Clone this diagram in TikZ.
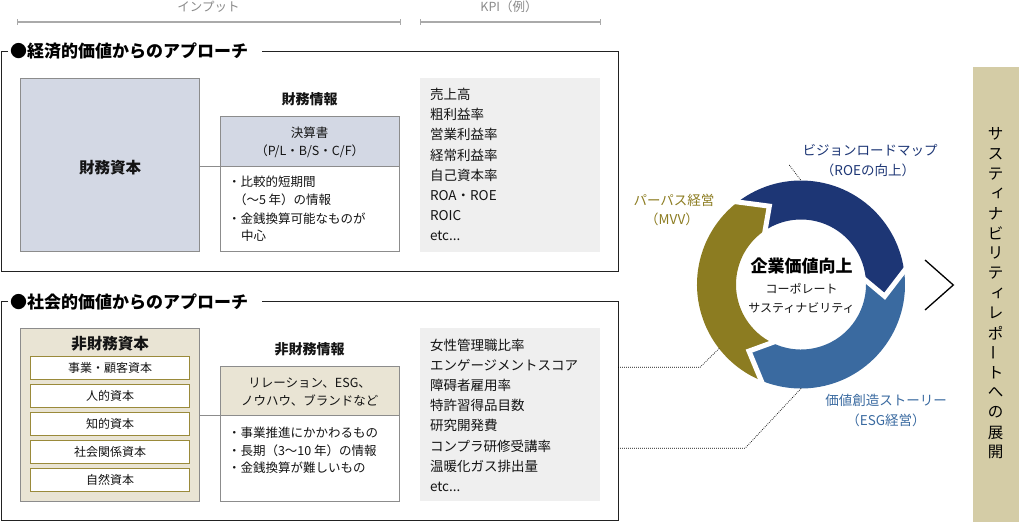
\documentclass[tikz,border=0pt]{standalone}
\usepackage{fontspec}
\setmainfont{Noto Sans CJK JP}
\usetikzlibrary{calc}
\definecolor{frameC}{HTML}{222222}
\definecolor{textC}{HTML}{141414}
\definecolor{boxGray}{HTML}{8C8C8C}
\definecolor{finFill}{HTML}{D3D8E4}
\definecolor{nfFill}{HTML}{E9E4D4}
\definecolor{kpiFill}{HTML}{EFEFEF}
\definecolor{ringOlive}{HTML}{8C7C21}
\definecolor{ringDark}{HTML}{1D3675}
\definecolor{ringLight}{HTML}{3A6AA0}
\definecolor{panelC}{HTML}{D4CCA6}
\definecolor{goldLine}{HTML}{9A8A3A}
\definecolor{topGray}{HTML}{8A8A8A}
\definecolor{barGray}{HTML}{AAAAAA}
\newcommand{\fsz}[1]{\fontsize{#1}{#1}\selectfont}
\begin{document}
\begin{tikzpicture}[x=1pt,y=-1pt,
  tx/.style={inner sep=0pt, outer sep=0pt, text=textC},
  ctr/.style={tx, anchor=base},
  lft/.style={tx, anchor=base west},
  boxS/.style={draw=boxGray, line width=0.8pt, inner sep=0pt, outer sep=0pt, anchor=north west},
  itemS/.style={draw=goldLine, fill=white, line width=0.8pt, inner sep=0pt, outer sep=0pt, anchor=north west, minimum width=158.6pt, minimum height=22.7pt},
  kpiS/.style={fill=kpiFill, inner sep=0pt, outer sep=0pt, anchor=north west, minimum width=180pt},
  frameS/.style={draw=frameC, line width=1pt},
  linkS/.style={draw=boxGray, line width=0.8pt},
  leaderS/.style={draw=black, line width=0.75pt, dash pattern=on 0.75pt off 1.25pt},
  barS/.style={draw=barGray, line width=1.4pt},
  tickS/.style={draw=barGray, line width=0.8pt},
  gapS/.style={draw=white, line width=5pt, line join=miter},
  vch/.style={inner sep=0pt, outer sep=0pt, text=black, font=\fsz{15.5}},
]
\useasboundingbox (0,0) rectangle (1019,522);

% ---------- top scale bars ----------
\node[ctr, text=topGray, font=\fsz{12.5}] (inLbl) at (208.5,11.8) {インプット};
\node[ctr, text=topGray, font=\fsz{12.5}] (kpiLbl) at (509,11.8) {KPI（例）};
\coordinate (inA) at (17,22); \coordinate (inB) at (400,22);
\coordinate (kpA) at (420,22); \coordinate (kpB) at (600,22);
\draw[barS] (inA) -- (inB);
\draw[barS] (kpA) -- (kpB);
\foreach \p in {inA,inB,kpA,kpB} \draw[tickS] ([yshift=3pt]\p) -- ([yshift=-3pt]\p);

% ---------- economic frame ----------
\node[lft, text=black, font=\fsz{17}\bfseries] (econT) at (10,57.5) {●経済的価値からのアプローチ};
\draw[frameS] (8,51) -- (1,51) -- (1,271) -- (618,271) -- (618,51) -- (262,51);

\node[boxS, fill=finFill, minimum width=178.6pt, minimum height=172.7pt] (finCap) at (20.7,78.3) {};
\node[ctr, font=\fsz{15.5}\bfseries] (finCapT) at (110,173.6) {財務資本};

\node[ctr, font=\fsz{14}\bfseries] (finInfoT) at (309.7,104.6) {財務情報};
\node[boxS, fill=white, minimum width=179.3pt, minimum height=134.3pt] (finInfo) at (220,116.7) {};
\node[boxS, fill=finFill, minimum width=179.3pt, minimum height=49.3pt] (finHead) at (220,116.7) {};
\node[ctr, font=\fsz{12.5}] (finH1) at (309.7,137.5) {決算書};
\node[ctr, font=\fsz{12.5}] (finH2) at (309.7,155.5) {（P/L・B/S・C/F）};
\node[lft, font=\fsz{12.5}] (finB1) at (228,186.5) {・比較的短期間};
\node[lft, font=\fsz{12.5}] (finB2) at (234,204.8) {（〜5 年）の情報};
\node[lft, font=\fsz{12.5}] (finB3) at (228,223.1) {・金銭換算可能なものが};
\node[lft, font=\fsz{12.5}] (finB4) at (241,240.8) {中心};
\draw[linkS] (finCap.east |- finHead.south) -- (finHead.south west);

\node[kpiS, minimum height=174pt] (kpiTop) at (420,77.7) {};
\foreach \t [count=\i from 0] in {売上高,粗利益率,営業利益率,経常利益率,自己資本率,ROA・ROE,ROIC}
  \node[lft, font=\fsz{13.5}] (kpiA\i) at (430,{99.4+20.2*\i}) {\t};
\node[lft, font=\fsz{13.5}] (kpiA7) at (430,240.8) {etc...};

% ---------- social frame ----------
\node[lft, text=black, font=\fsz{17}\bfseries] (socT) at (10,308.2) {●社会的価値からのアプローチ};
\draw[frameS] (8,301.7) -- (1,301.7) -- (1,520) -- (618,520) -- (618,301.7) -- (262,301.7);

\node[boxS, fill=nfFill, minimum width=178.6pt, minimum height=173.4pt] (nfCap) at (20.7,328.3) {};
\node[ctr, font=\fsz{15.5}\bfseries] (nfCapT) at (110,349.2) {非財務資本};
\foreach \t [count=\i from 0] in {事業・顧客資本,人的資本,知的資本,社会関係資本,自然資本}{
  \node[itemS] (nfItem\i) at (30.7,{356.7+28*\i}) {};
  \node[ctr, font=\fsz{12}] (nfItemT\i) at ($(nfItem\i.center)+(0,4.6)$) {\t};
}

\node[ctr, font=\fsz{14}\bfseries] (nfInfoT) at (309.7,354.6) {非財務情報};
\node[boxS, fill=white, minimum width=179.3pt, minimum height=135pt] (nfInfo) at (220,366.7) {};
\node[boxS, fill=nfFill, minimum width=179.3pt, minimum height=49pt] (nfHead) at (220,366.7) {};
\node[ctr, font=\fsz{12.5}] (nfH1) at (309.7,387.3) {リレーション、ESG、};
\node[ctr, font=\fsz{12.5}] (nfH2) at (309.7,405.3) {ノウハウ、ブランドなど};
\node[lft, font=\fsz{12.5}] (nfB1) at (228,437.1) {・事業推進にかかわるもの};
\node[lft, font=\fsz{12.5}] (nfB2) at (228,455.1) {・長期（3〜10 年）の情報};
\node[lft, font=\fsz{12.5}] (nfB3) at (228,472.8) {・金銭換算が難しいもの};
\draw[linkS] (nfCap.east |- nfHead.south) -- (nfHead.south west);

\node[kpiS, minimum height=172.2pt] (kpiBot) at (420,328.3) {};
\foreach \t [count=\i from 0] in {女性管理職比率,エンゲージメントスコア,障碍者雇用率,特許習得品目数,研究開発費,コンプラ研修受講率,温暖化ガス排出量}
  \node[lft, font=\fsz{13.5}] (kpiB\i) at (430,{350.1+20.2*\i}) {\t};
\node[lft, font=\fsz{13.5}] (kpiB7) at (430,491.5) {etc...};

% ---------- value ring ----------
\begin{scope}[shift={(801,284.5)}, y=1pt]
  \fill[ringDark] (127.5:104) arc[start angle=127.5, end angle=7.5, radius=104]
     -- (-8:84.5) -- (3.5:65) arc[start angle=3.5, end angle=123.5, radius=65]
     -- (112:84.5) -- cycle;
  \fill[ringLight] (7.5:104) arc[start angle=7.5, end angle=-112.5, radius=104]
     -- (-128:84.5) -- (-116.5:65) arc[start angle=-116.5, end angle=3.5, radius=65]
     -- (-8:84.5) -- cycle;
  \fill[ringOlive] (-112.5:104) arc[start angle=-112.5, end angle=-232.5, radius=104]
     -- (-248:84.5) -- (-236.5:65) arc[start angle=-236.5, end angle=-116.5, radius=65]
     -- (-128:84.5) -- cycle;
  \foreach \a in {127.5,7.5,-112.5}{
    \coordinate (jo) at (\a:104);
    \coordinate (jt) at ({\a-15.5}:84.5);
    \coordinate (ji) at ({\a-4}:65);
    \draw[gapS] ($(jo)!-0.3!(jt)$) -- (jt) -- ($(ji)!-0.3!(jt)$);
  }
  \coordinate (ringN) at (90:104);
  \coordinate (ringS) at (-90:104);
  \coordinate (ringSW) at (-142:104);
\end{scope}

\node[ctr, text=black, font=\fsz{17}\bfseries] (coreT) at (801.5,272.2) {企業価値向上};
\node[ctr, font=\fsz{12}] (coreS1) at (801.5,293.6) {コーポレート};
\node[ctr, font=\fsz{12}] (coreS2) at (801.5,312.3) {サスティナビリティ};

\node[ctr, text=ringDark, font=\fsz{13.5}] (roeL1) at (870,155.8) {ビジョンロードマップ};
\node[ctr, text=ringDark, font=\fsz{13.5}] (roeL2) at (868,175.8) {（ROEの向上）};
\node[ctr, text=ringOlive, font=\fsz{13.5}] (mvvL1) at (674,205.1) {パーパス経営};
\node[ctr, text=ringOlive, font=\fsz{13.5}] (mvvL2) at (672,224.4) {（MVV）};
\node[ctr, text=ringLight, font=\fsz{13.5}] (esgL1) at (886,405.8) {価値創造ストーリー};
\node[ctr, text=ringLight, font=\fsz{13.5}] (esgL2) at (886,425.8) {（ESG経営）};

\coordinate (roeEnd) at (789.3,165);
\coordinate (mvvBend) at (700,367.3);
\coordinate (mvvEnd) at (618,367.3);
\coordinate (esgBend) at (745,448.3);
\coordinate (esgEnd) at (618,448.3);
\draw[leaderS] (roeEnd) -- (ringN);
\draw[leaderS] (ringSW) -- (mvvBend) -- (mvvEnd);
\draw[leaderS] (ringS) -- (esgBend) -- (esgEnd);

% ---------- chevron and report panel ----------
\coordinate (chA) at (925,260); \coordinate (chB) at (953.3,285); \coordinate (chC) at (925,310);
\draw[black, line width=1.3pt, line join=miter] (chA) -- (chB) -- (chC);

\node[fill=panelC, inner sep=0pt, outer sep=0pt, anchor=north west, minimum width=45.7pt, minimum height=454.7pt] (panel) at (973.3,67.3) {};
\foreach \c/\dx [count=\i] in {サ/0,ス/0,テ/0,ィ/2.5,ナ/0,ビ/0,リ/0,テ/0,ィ/2.5,レ/0,ポ/0,{\rotatebox{90}{ー}}/0,ト/0,へ/0,の/0,展/0,開/0}
  \node[vch] (v\i) at ({995.7+\dx},{134+19.9*(\i-1)}) {\c};
\end{tikzpicture}
\end{document}
